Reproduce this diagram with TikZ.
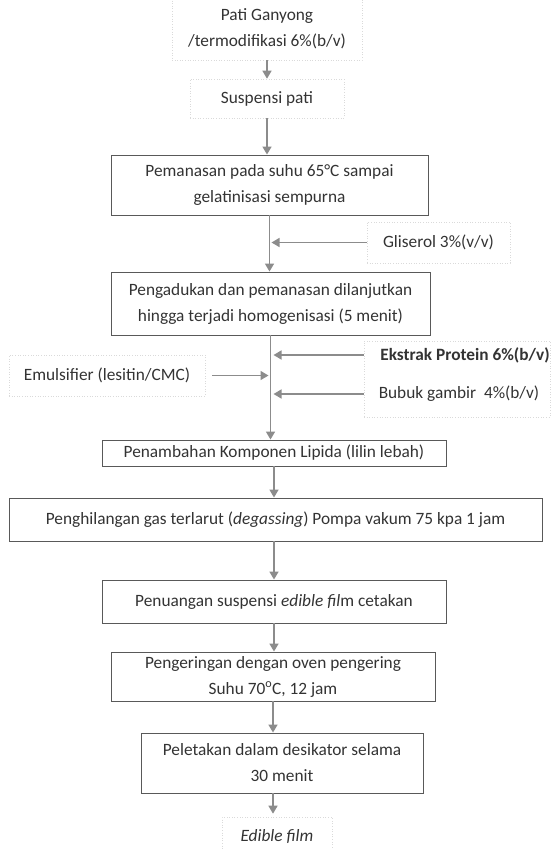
\documentclass[tikz,border=0pt]{standalone}
\usepackage{fontspec}
\setmainfont{Carlito}
\usetikzlibrary{arrows.meta}
\definecolor{garis}{HTML}{595959}
\definecolor{abu}{HTML}{8C8C8C}
\definecolor{titik}{HTML}{DADADA}

\begin{document}
\begin{tikzpicture}[x=1pt, y=-1pt, every node/.style={font=\fontsize{17.3}{26}\selectfont, text=black!80}]
  \useasboundingbox (0,0) rectangle (551,849);
  \tikzset{proses/.style = {shape=rectangle,draw=garis,line width=0.9pt,align=center,inner sep=2pt}}
  \tikzset{bahan/.style = {shape=rectangle,draw=titik,dotted,line width=0.6pt,align=center,inner sep=2pt}}
  \tikzset{panah/.style = {-{Triangle[width=9pt,length=8pt]},draw=abu,line width=1.5pt}}
  % langkah
  \node[bahan, minimum width=190, minimum height=62] (pati) at (267,29) {Pati Ganyong\\/termodifikasi 6\%(b/v)};
  \node[bahan, minimum width=154, minimum height=39] (suspensi) at (267,98.5) {Suspensi pati};
  \node[proses, minimum width=317, minimum height=60] (panas) at (269.5,185) {Pemanasan pada suhu 65°C sampai\\gelatinisasi sempurna};
  \node[bahan, minimum width=143, minimum height=41] (gliserol) at (438.5,242.5) {Gliserol 3\%(v/v)};
  \node[proses, minimum width=319, minimum height=63] (aduk) at (270.5,303.5) {Pengadukan dan pemanasan dilanjutkan\\hingga terjadi homogenisasi (5 menit)};
  \node[bahan, minimum width=196, minimum height=41] (emulsi) at (107,375.5) {Emulsifier (lesitin/CMC)};
  \node[bahan, minimum width=186, minimum height=76] (tambahan) at (457,379) {};
  \node (ekstrak) at (465,355) {\textbf{Ekstrak Protein 6\%(b/v)}};
  \node (bubuk) at (459,394) {Bubuk gambir\ \ 4\%(b/v)};
  \node[proses, minimum width=344, minimum height=26] (lipida) at (274,453) {Penambahan Komponen Lipida (lilin lebah)};
  \node[proses, minimum width=533, minimum height=43] (degas) at (275.5,519.5) {Penghilangan gas terlarut (\textit{degassing}) Pompa vakum 75 kpa 1 jam};
  \node[proses, minimum width=344, minimum height=43] (tuang) at (274,601.5) {Penuangan suspensi \textit{edible fil}m cetakan};
  \node[proses, minimum width=324, minimum height=49] (kering) at (273,676.5) {Pengeringan dengan oven pengering\\Suhu 70\textsuperscript{o}C, 12 jam};
  \node[proses, minimum width=282, minimum height=60] (desikator) at (282,763) {Peletakan dalam desikator selama\\30 menit};
  \node[bahan, minimum width=110, minimum height=40] (film) at (277,837) {\textit{Edible film}};
  % panah
  \draw[panah] (pati.south) -- (suspensi.north);
  \draw[panah] (suspensi.south) -- (suspensi.south |- panas.north);
  \draw[panah] (panas.south) -- (panas.south |- aduk.north);
  \draw[panah, shorten >=2pt] (gliserol.west) -- (gliserol.west -| panas.south);
  \draw[panah] (aduk.south) -- (aduk.south |- lipida.north);
  \draw[panah, shorten >=3pt] (tambahan.west |- ekstrak.west) -- (ekstrak.west -| aduk.south);
  \draw[panah, shorten >=3pt] (tambahan.west |- bubuk.west) -- (bubuk.west -| aduk.south);
  \draw[panah, shorten <=7pt, shorten >=2pt] (emulsi.east) -- (emulsi.east -| aduk.south);
  \draw[panah] (lipida.south) -- (lipida.south |- degas.north);
  \draw[panah] (lipida.south |- degas.south) -- (lipida.south |- tuang.north);
  \draw[panah] (tuang.south) -- (tuang.south |- kering.north);
  \draw[panah] (kering.south) -- (kering.south |- desikator.north);
  \draw[panah, shorten >=3pt] (kering.south |- desikator.south) -- (kering.south |- film.north);
\end{tikzpicture}
\end{document}
